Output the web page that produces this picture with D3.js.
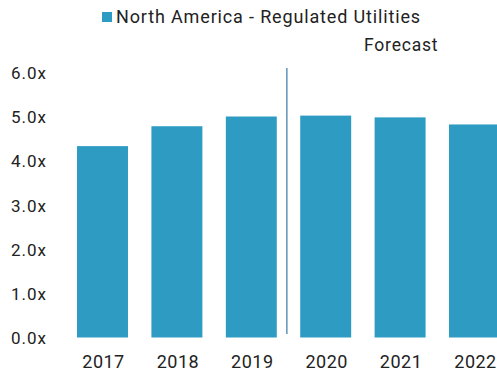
<!DOCTYPE html>
<html>
<head>
<meta charset="utf-8">
<script src="https://cdn.jsdelivr.net/npm/d3@7"></script>
<style>
  html, body { margin: 0; padding: 0; background: #fff; }
  svg { display: block; font-family: Roboto, "Noto Sans", sans-serif; }
</style>
</head>
<body>
<svg id="chart" width="497" height="374"></svg>
<script>
// Debt-to-EBITDA multiples, North America regulated utilities
const years = ["2017", "2018", "2019", "2020", "2021", "2022"];
const leverage = [4.33, 4.78, 5.0, 5.02, 4.98, 4.82];
const yTicks = [0, 1, 2, 3, 4, 5, 6];
const seriesName = "North America - Regulated Utilities";
const forecastLabel = "Forecast";
const firstForecast = "2020";

const barColor = "#2e9bc3";
const textColor = "#222";

const svg = d3.select("#chart");

const x = d3.scaleBand()
  .domain(years)
  .range([65.3, 511.7])
  .paddingInner(0.315)
  .paddingOuter(0.1575);

const y = d3.scaleLinear()
  .domain([0, 6])
  .range([337.5, 72.3]);

// bars
svg.append("g")
  .selectAll("rect")
  .data(years.map((yr, i) => ({ yr, v: leverage[i] })))
  .join("rect")
  .attr("x", d => x(d.yr))
  .attr("y", d => y(d.v))
  .attr("width", x.bandwidth())
  .attr("height", d => y(0) - y(d.v))
  .attr("fill", barColor);

// y axis labels
const yAxis = d3.axisLeft(y)
  .tickValues(yTicks)
  .tickFormat(d => d3.format(".1f")(d) + "x")
  .tickSize(0)
  .tickPadding(0);
const gy = svg.append("g")
  .attr("transform", "translate(47,0)")
  .call(yAxis);
gy.select(".domain").remove();
gy.selectAll("text")
  .attr("font-size", 17)
  .attr("font-family", "Roboto, sans-serif")
  .attr("letter-spacing", 1)
  .attr("fill", textColor)
  .attr("dy", "0.36em");

// x axis labels
const xAxis = d3.axisBottom(x).tickSize(0).tickPadding(0);
const gx = svg.append("g")
  .attr("transform", "translate(1,355)")
  .call(xAxis);
gx.select(".domain").remove();
gx.selectAll("text")
  .attr("font-size", 18)
  .attr("font-family", "Roboto, sans-serif")
  .attr("letter-spacing", 0.5)
  .attr("fill", textColor)
  .attr("dy", "0.71em");

// forecast divider
const lastActual = years[years.indexOf(firstForecast) - 1];
const divX = x(lastActual) + x.bandwidth() + (x.step() - x.bandwidth()) * 0.43;
svg.append("line")
  .attr("x1", divX).attr("x2", divX)
  .attr("y1", 68).attr("y2", 334)
  .attr("stroke", "#5f95b8")
  .attr("stroke-width", 1.5);

// forecast label centred over forecast years
const fcStart = x(firstForecast);
const fcEnd = x(years[years.length - 1]) + x.bandwidth();
svg.append("text")
  .attr("x", 364)
  .attr("y", 50.7)
  .attr("font-size", 17.5)
  .attr("letter-spacing", 0.8)
  .attr("fill", textColor)
  .text(forecastLabel);

// legend
const legend = svg.append("g");
legend.append("rect")
  .attr("x", 102).attr("y", 12)
  .attr("width", 10).attr("height", 10)
  .attr("fill", barColor);
legend.append("text")
  .attr("x", 116)
  .attr("y", 22.7)
  .attr("font-size", 18)
  .attr("letter-spacing", 0.85)
  .attr("fill", textColor)
  .text(seriesName);
</script>
</body>
</html>
